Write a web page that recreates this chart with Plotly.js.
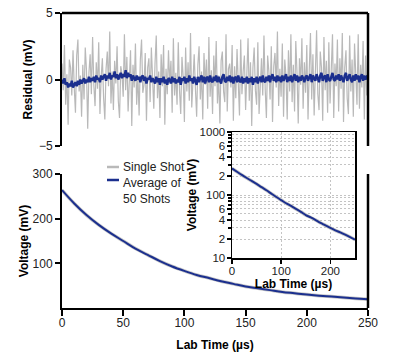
<!DOCTYPE html>
<html><head><meta charset="utf-8">
<script src="https://cdn.plot.ly/plotly-3.0.1.min.js"></script>
<style>html,body{margin:0;padding:0;background:#fff}#c{width:400px;height:352px}</style>
</head><body><div id="c"></div>
<script>
// ---- data ----
const tMax = 250;
const residualSingle = [
1.2,-0.8,2.6,-1.9,0.4,-3.4,1.5,0.9,-1.2,2.2,-0.6,-2.5,1.8,3.0,-0.9,0.3,-2.8,1.1,-1.5,2.4,0.7,-3.7,0.5,1.9,-1.1,
3.2,-0.4,-2.0,1.3,-0.7,2.8,-2.6,0.2,1.6,-1.4,-3.0,0.8,2.1,-0.5,3.6,-1.8,0.6,-2.3,1.4,-0.3,2.5,-1.6,-2.9,1.0,0.4,
-1.3,3.4,-0.8,1.7,-2.4,0.5,2.2,-3.5,1.1,-0.6,2.7,-1.9,0.3,-2.7,1.5,3.0,-1.0,-0.4,2.0,-3.1,0.9,1.6,-1.7,2.4,-0.7,
-2.2,1.2,3.3,-1.4,0.6,-2.9,1.9,-0.5,2.6,-3.4,0.8,-1.1,2.2,-0.3,1.4,-2.5,3.1,-1.2,0.5,-1.9,2.8,-0.8,-2.6,1.7,0.2,
-3.2,2.4,-0.9,1.3,-1.6,3.5,-2.1,0.4,1.9,-0.7,-2.8,1.1,2.5,-1.5,0.6,-3.0,2.0,-0.4,1.5,-2.2,3.2,-1.3,0.7,-2.6,1.8,
-0.5,2.9,-1.8,0.3,-3.3,1.4,2.1,-0.9,-1.7,3.4,-2.4,0.8,1.2,-0.6,2.6,-3.1,1.0,-1.4,2.3,-0.2,-2.7,3.0,-1.1,0.6,1.8,
-2.3,0.5,3.1,-1.6,1.3,-3.5,0.9,2.4,-0.8,-1.9,2.8,-2.6,0.4,1.6,-1.2,3.3,-0.7,-2.9,1.8,0.6,-1.5,2.5,-3.2,1.0,2.0,
-0.6,3.6,-2.0,0.8,-1.3,2.7,-2.8,1.5,0.3,-3.0,2.2,-0.9,3.4,-1.7,1.1,-2.4,2.9,0.5,-3.3,1.6,-0.4,3.1,-2.2,1.3,-1.0,
2.6,-3.0,0.7,3.5,-1.5,1.9,-2.7,0.4,3.7,-1.1,-2.3,2.1,0.9,-3.1,3.2,-0.8,1.4,-2.5,2.8,-1.8,0.6,3.4,-2.9,1.2,-0.5,
3.0,-2.4,1.6,-0.7,3.5,-3.2,0.9,2.2,-1.4,-2.6,3.3,-0.9,1.5,-2.8,2.7,0.4,-1.9,3.4,-2.2,1.1,-0.6,2.9,-3.0,1.8,-1.2,0.2
];
const residualAverage = [
0.0,-0.3,0.1,-0.4,-0.2,-0.6,-0.3,-0.5,-0.1,-0.6,-0.4,-0.2,-0.5,-0.1,-0.4,0.0,-0.3,-0.1,0.1,-0.3,0.0,-0.2,0.2,-0.2,0.1,
-0.1,0.2,-0.2,0.3,0.0,0.1,-0.2,0.3,0.0,0.2,0.4,-0.1,0.3,0.1,0.5,0.0,0.3,0.2,0.6,0.1,0.4,0.0,0.3,0.5,0.1,
0.4,0.2,0.7,0.1,0.5,0.2,0.4,-0.1,0.3,0.1,-0.1,0.3,0.0,0.2,-0.2,0.2,0.3,-0.1,0.2,-0.3,0.1,0.0,0.3,-0.2,0.1,
-0.1,-0.3,0.2,-0.2,0.1,-0.4,0.1,-0.2,0.2,-0.3,0.0,-0.4,0.1,0.0,-0.3,0.2,-0.2,0.1,-0.3,0.0,-0.2,0.2,-0.4,0.1,-0.1,
0.2,-0.3,0.1,-0.2,0.3,-0.1,0.1,-0.3,0.2,-0.1,-0.4,0.2,-0.2,0.1,0.3,-0.2,0.2,-0.3,0.1,0.2,-0.2,0.3,-0.1,-0.2,0.2,
-0.1,0.3,-0.2,0.2,-0.1,-0.3,0.2,0.4,-0.1,-0.2,0.2,-0.1,0.3,-0.2,0.2,-0.3,0.1,0.2,-0.2,0.3,-0.1,-0.2,0.2,-0.3,0.1,
-0.2,0.2,-0.3,0.1,-0.2,0.2,-0.4,0.1,-0.2,0.2,-0.3,0.0,0.2,-0.2,0.3,-0.1,-0.2,0.2,-0.1,0.3,-0.2,0.2,0.4,-0.1,0.2,
-0.2,0.3,-0.1,0.2,-0.2,0.3,-0.1,0.2,0.4,-0.2,0.2,-0.1,0.3,-0.2,0.2,0.4,-0.1,0.3,-0.2,0.2,-0.1,0.3,0.1,-0.2,0.2,
0.3,-0.1,0.2,0.4,-0.2,0.3,0.1,-0.1,0.4,0.1,-0.2,0.3,0.5,-0.1,0.2,0.3,-0.2,0.4,0.0,-0.1,0.3,0.5,0.0,-0.1,0.3,
0.0,0.4,-0.1,0.3,0.1,-0.2,0.3,0.5,-0.1,0.2,0.4,0.0,-0.2,0.3,-0.1,0.4,0.0,0.3,-0.2,0.2,0.4,-0.1,0.3,0.0,0.2,0.1
];
const voltageTime = [0,10,20,30,40,50,60,70,80,90,100,110,120,130,140,150,160,170,180,190,200,210,220,230,240,250];
const voltageValues = [264,234,208,186,167,150,133,119,105,93,83,74,67,60,54,48,44,40,36,33,30,27.5,25.5,23.5,21.5,19.5];
const xTicks = [0,50,100,150,200,250];
const insetXTicks = [0,100,200];
const insetYTicks = [10,20,40,60,100,200,400,600,1000];
const insetYTickText = ["10","2","4","6","100","2","4","6","1000"];
const insetYMinor = [30,50,70,80,90,300,500,700,800,900];
const legendLabels = ["Single Shot","Average of<br>50 Shots"];

// ---- style ----
const BLUE = '#1b2f8e', GRAY = '#b9b9b9';
const FONT = 'Liberation Sans Narrow, Liberation Sans, Arial, sans-serif';
const GRID = '#c4c4c4', DASH = '2px,2px';
const tOf = arr => arr.map((_, i) => i * tMax / (arr.length - 1));

const XD = [62/400, 368/400];
const topY = [1-146/352, 1-13/352];
const botY = [1-308/352, 1-174/352];
const insX = [232/400, 355/400];
const insY = [1-258/352, 1-132/352];

const traces = [
  {x: tOf(residualSingle), y: residualSingle, xaxis:'x', yaxis:'y', mode:'lines', line:{color:GRAY,width:1.2}, showlegend:false},
  {x: tOf(residualAverage), y: residualAverage, xaxis:'x', yaxis:'y', mode:'lines', line:{color:BLUE,width:2.4}, showlegend:false},
  {x: voltageTime, y: voltageValues, xaxis:'x2', yaxis:'y2', mode:'lines', line:{color:'#c8c8c8',width:3.5, shape:'spline'}, showlegend:false},
  {x: voltageTime, y: voltageValues, xaxis:'x2', yaxis:'y2', mode:'lines', line:{color:BLUE,width:2, shape:'spline'}, showlegend:false},
  {x: voltageTime, y: voltageValues, xaxis:'x3', yaxis:'y3', mode:'lines', line:{color:'#c8c8c8',width:3.5, shape:'spline'}, showlegend:false},
  {x: voltageTime, y: voltageValues, xaxis:'x3', yaxis:'y3', mode:'lines', line:{color:BLUE,width:2, shape:'spline'}, showlegend:false}
];

const tickFont = {family: FONT, size: 12, color:'#222'};
const insTickFont = {family: FONT, size: 11.5, color:'#222'};
const titleFont = {family: FONT, size: 12, color:'#000', weight: 'bold'};

const layout = {
  width: 400, height: 352,
  margin: {l:0, r:0, t:0, b:0},
  paper_bgcolor: '#fff', plot_bgcolor: 'rgba(0,0,0,0)',
  showlegend: false,
  xaxis: {domain: XD, anchor:'y', range:[0,tMax], visible:false},
  yaxis: {domain: topY, anchor:'x', range:[-5,5], tickvals:[-5,0,5], showgrid:false, zeroline:false,
          showline:true, linewidth:2, linecolor:'#000', ticks:'outside', ticklen:5, tickwidth:2, tickcolor:'#000',
          tickfont: tickFont, title:{text:'<b>Residual (mV)</b>', font:titleFont, standoff: 4}},
  xaxis2: {domain: XD, anchor:'y2', range:[0,tMax], tickvals:xTicks, showgrid:false, zeroline:false,
          showline:true, linewidth:2, linecolor:'#000', ticks:'outside', ticklen:6, tickwidth:2, tickcolor:'#000',
          ticklabelstandoff: -3,
          tickfont: tickFont, title:{text:'<b>Lab Time (µs)</b>', font:titleFont, standoff: 16}},
  yaxis2: {domain: botY, anchor:'x2', range:[0,300], tickvals:[100,200,300], showgrid:false, zeroline:false,
          showline:true, linewidth:2, linecolor:'#000', ticks:'outside', ticklen:5, tickwidth:2, tickcolor:'#000',
          tickfont: tickFont, title:{text:'<b>Voltage (mV)</b>', font:titleFont, standoff: 1}},
  xaxis3: {domain: insX, anchor:'y3', range:[0,tMax], tickvals:insetXTicks, showgrid:true, gridcolor:GRID, griddash:DASH, gridwidth:1,
          zeroline:false, showline:true, mirror:true, linewidth:1.5, linecolor:'#000', ticks:'outside', ticklen:4, tickwidth:1.5, tickcolor:'#000',
          ticklabelstandoff: -2,
          tickfont: insTickFont, title:{text:'<b>Lab Time (µs)</b>', font:titleFont, standoff: 0}},
  yaxis3: {domain: insY, anchor:'x3', type:'log', range:[1,3], tickvals:insetYTicks, ticktext:insetYTickText,
          showgrid:true, gridcolor:GRID, griddash:DASH, gridwidth:1, zeroline:false,
          showline:true, mirror:true, linewidth:1.5, linecolor:'#000', ticks:'outside', ticklen:4, tickwidth:1.5, tickcolor:'#000',
          ticklabelstandoff: -1,
          minor:{tickvals:insetYMinor, ticks:'outside', ticklen:3, tickcolor:'#000', showgrid:true, gridcolor:GRID, griddash:DASH},
          tickfont: insTickFont, title:{text:'<b>Voltage (mV)</b>', font:titleFont, standoff: 0}},
  shapes: [
    {type:'line', xref:'paper', yref:'paper', x0:XD[0], x1:XD[1], y0:topY[1], y1:topY[1], line:{color:'#000', width:2.5}},
    {type:'line', xref:'paper', yref:'paper', x0:XD[1], x1:XD[1], y0:topY[0], y1:topY[1], line:{color:'#000', width:2.5}},
    {type:'line', xref:'paper', yref:'paper', x0:XD[1], x1:XD[1], y0:botY[0], y1:botY[1], line:{color:'#000', width:2.5}},
    {type:'line', xref:'paper', yref:'paper', x0:107/400, x1:119/400, y0:1-167/352, y1:1-167/352, line:{color:GRAY, width:2.5}},
    {type:'line', xref:'paper', yref:'paper', x0:107/400, x1:119/400, y0:1-180/352, y1:1-180/352, line:{color:BLUE, width:2.5}}
  ],
  annotations: [
    {xref:'paper', yref:'paper', x:121/400, y:1-167/352, xanchor:'left', yanchor:'middle', text:legendLabels[0], showarrow:false, font:{family:FONT,size:12,color:'#222'}},
    {xref:'paper', yref:'paper', x:121/400, y:1-174/352, xanchor:'left', yanchor:'top', align:'left', text:legendLabels[1], showarrow:false, font:{family:FONT,size:12,color:'#222'}}
  ]
};

Plotly.newPlot('c', traces, layout, {staticPlot:true, displayModeBar:false});
</script></body></html>
